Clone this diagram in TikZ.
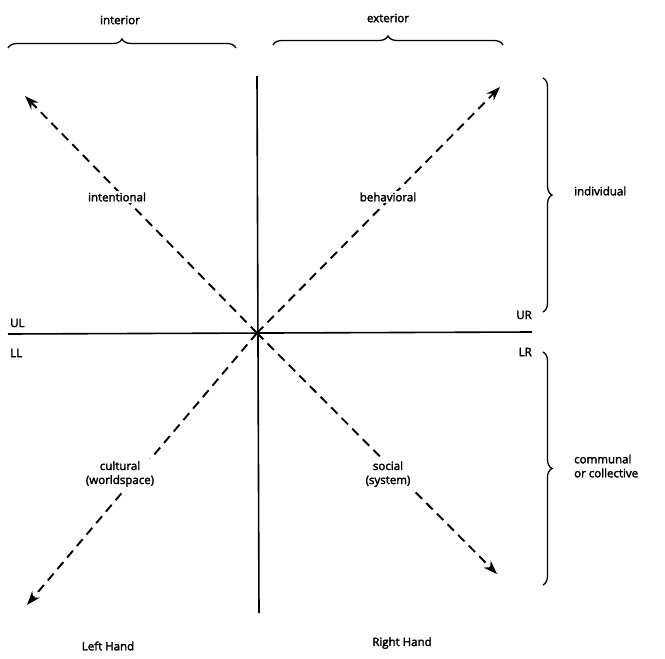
\documentclass[tikz,border=0pt]{standalone}
\usepackage{fontspec}
\setmainfont{Open Sans}[FakeBold=2.5]
\usetikzlibrary{arrows.meta,decorations.pathreplacing}
\begin{document}
\begin{tikzpicture}[x=1pt,y=-1pt,
  lbl/.style={font=\fontsize{11.5}{14}\selectfont, inner sep=2pt, align=center, fill=white},
  axis/.style={line width=1.6pt},
  diag/.style={line width=1.9pt, dash pattern=on 9pt off 6pt, -{Stealth[length=14pt,width=10pt]}},
  brc/.style={line width=1.3pt, decorate, decoration={brace, amplitude=9pt}}]
\useasboundingbox (0,0) rectangle (665,659);
\coordinate (c) at (257,333);
\coordinate (vt) at (257,76);
\coordinate (vb) at (259,613);
\coordinate (hl) at (8,334);
\coordinate (hr) at (532,332);
\draw[axis] (vt) -- (vb);
\draw[axis] (hl) -- (hr);
\coordinate (ul) at (25,96);
\coordinate (ur) at (500,87);
\coordinate (ll) at (27,605);
\coordinate (lr) at (497,574);
\draw[diag] (c) -- (ul);
\draw[diag] (c) -- (ur);
\draw[diag] (c) -- (ll);
\draw[diag] (c) -- (lr);
% braces
\coordinate (b1a) at (8,48);
\coordinate (b1b) at (236,48);
\coordinate (b2a) at (273,45);
\coordinate (b2b) at (503,45);
\coordinate (b3a) at (543,78);
\coordinate (b3b) at (543,312);
\coordinate (b4a) at (543,352);
\coordinate (b4b) at (543,585);
\draw[brc] (b1a) -- (b1b);
\draw[brc] (b2a) -- (b2b);
\draw[brc] (b3a) -- (b3b);
\draw[brc] (b4a) -- (b4b);
\node[lbl] (interior) at (120,20) {interior};
\node[lbl] (exterior) at (388,18) {exterior};
\node[lbl, anchor=west] (individual) at (572,191) {individual};
\node[lbl, anchor=west, align=left] (communal) at (572,466) {communal\\or collective};
\node[lbl] (intentional) at (117,197) {intentional};
\node[lbl] (behavioral) at (388,197) {behavioral};
\node[lbl] (cultural) at (120,474) {cultural\\(worldspace)};
\node[lbl] (social) at (388,474) {social\\(system)};
\node[lbl, anchor=west, fill=none] (UL) at (8,323) {UL};
\node[lbl, anchor=west, fill=none] (LL) at (8,353) {LL};
\node[lbl, anchor=east, fill=none] (UR) at (534,315) {UR};
\node[lbl, anchor=east, fill=none] (LR) at (534,352) {LR};
\node[lbl] (left) at (108,646) {Left Hand};
\node[lbl] (right) at (402,643) {Right Hand};
\end{tikzpicture}
\end{document}
